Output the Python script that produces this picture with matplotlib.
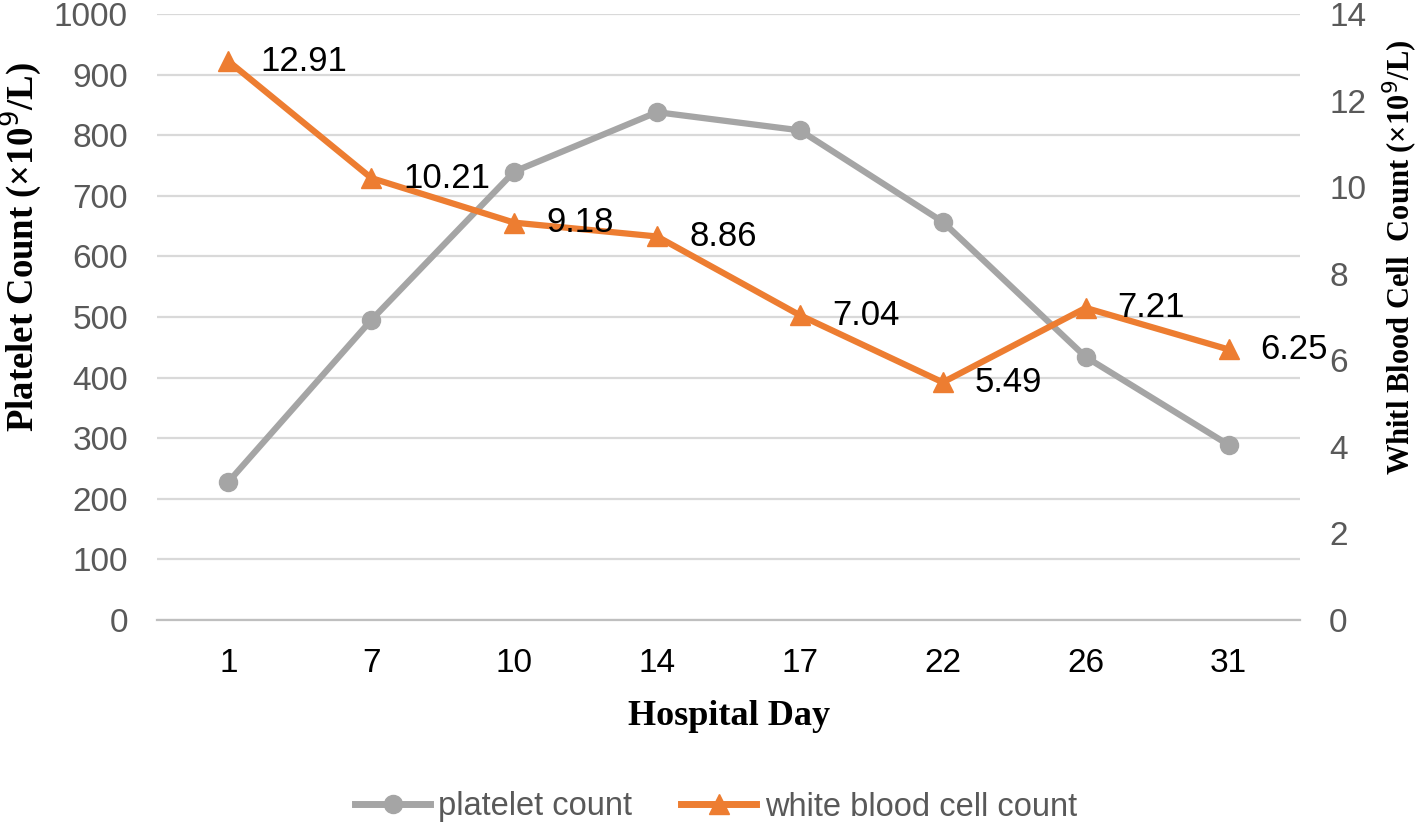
import matplotlib
matplotlib.use("Agg")
import matplotlib.pyplot as plt
from matplotlib.lines import Line2D

days = ["1", "7", "10", "14", "17", "22", "26", "31"]
platelet = [228, 495, 740, 838, 808, 657, 434, 289]
wbc = [12.91, 10.21, 9.18, 8.86, 7.04, 5.49, 7.21, 6.25]
left_ticks = list(range(0, 1001, 100))
right_ticks = list(range(0, 15, 2))

GRAY = "#A5A5A5"
ORANGE = "#ED7D31"
TICK = "#595959"

fig = plt.figure(figsize=(14.18, 8.26), dpi=100)
ax = fig.add_axes([157/1418, 1-620/826, (1300-157)/1418, (620-14)/826])
ax2 = ax.twinx()

x = list(range(len(days)))
ax.plot(x, platelet, color=GRAY, lw=4.5, marker="o", ms=13, zorder=3)
ax2.plot(x, wbc, color=ORANGE, lw=4.5, marker="^", ms=14, zorder=3)
for xi, v in zip(x, wbc):
    ax2.annotate(f"{v:.2f}", (xi, v), xytext=(23, 0), textcoords="offset points",
                 va="center", ha="left", fontsize=25, color="black", family="Liberation Sans")

ax.set_xlim(-0.5, len(days) - 0.5)
ax.set_ylim(0, 1000)
ax2.set_ylim(0, 14)
ax.set_yticks(left_ticks)
ax2.set_yticks(right_ticks)
ax.set_xticks(x)
ax.set_xticklabels(days)

ax.grid(axis="y", color="#D9D9D9", lw=1.6)
ax.set_axisbelow(True)
for a in (ax, ax2):
    for s in a.spines.values():
        s.set_visible(False)
ax.spines["bottom"].set_visible(True)
ax.spines["bottom"].set_color("#BFBFBF")
ax.spines["bottom"].set_linewidth(1.6)
ax.tick_params(axis="y", length=0, pad=21, labelsize=24, labelcolor=TICK)
ax2.tick_params(axis="y", length=0, pad=21, labelsize=24, labelcolor=TICK)
ax.tick_params(axis="x", length=0, pad=20, labelsize=24, labelcolor="black")
for lab in ax.get_yticklabels() + ax2.get_yticklabels() + ax.get_xticklabels():
    lab.set_family("Liberation Sans")

fig.text(21/1418, 1-247/826, "Platelet Count (×10$^{9}$/L)", rotation=90, ha="center", va="center",
         fontsize=26.5, fontweight="bold", family="Liberation Serif")
fig.text(1400/1418, 1-257/826, "Whitl Blood Cell  Count (×10$^{9}$/L)", rotation=90, ha="center", va="center",
         fontsize=22, fontweight="bold", family="Liberation Serif")
fig.text(729/1418, 1-725/826, "Hospital Day", ha="center", va="baseline",
         fontsize=26, fontweight="bold", family="Liberation Serif")

handles = [Line2D([], [], color=GRAY, lw=5, marker="o", ms=13),
           Line2D([], [], color=ORANGE, lw=5, marker="^", ms=14)]
leg = fig.legend(handles, ["platelet count", "white blood cell count"], loc="center",
                 bbox_to_anchor=(716/1418, 1-807/826), ncol=2, frameon=False,
                 prop={"family": "Liberation Sans", "size": 23.5}, handlelength=2.3,
                 columnspacing=1.5, handletextpad=0.25)
for t in leg.get_texts():
    t.set_color(TICK)

fig.savefig("out.png", dpi=100)
